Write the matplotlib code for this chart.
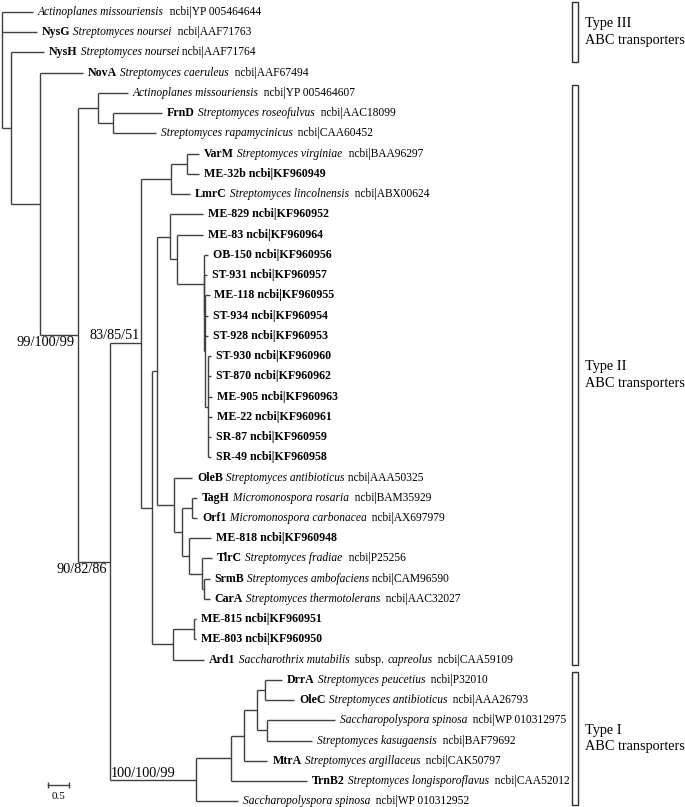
import re
import matplotlib.pyplot as plt
from matplotlib.patches import Rectangle

plt.rcParams['font.family'] = ['Liberation Serif', 'DejaVu Serif']

# leaf labels, top to bottom (**bold**, *italic*, rest plain)
leaf_labels = [
    '*Actinoplanes missouriensis*  ncbi|YP 005464644',
    '**NysG** *Streptomyces noursei*  ncbi|AAF71763',
    '**NysH** *Streptomyces noursei* ncbi|AAF71764',
    '**NovA** *Streptomyces caeruleus*  ncbi|AAF67494',
    '*Actinoplanes missouriensis*  ncbi|YP 005464607',
    '**FrnD** *Streptomyces roseofulvus*  ncbi|AAC18099',
    '*Streptomyces rapamycinicus*  ncbi|CAA60452',
    '**VarM** *Streptomyces virginiae*  ncbi|BAA96297',
    '**ME-32b ncbi|KF960949**',
    '**LmrC** *Streptomyces lincolnensis*  ncbi|ABX00624',
    '**ME-829 ncbi|KF960952**',
    '**ME-83 ncbi|KF960964**',
    '**OB-150 ncbi|KF960956**',
    '**ST-931 ncbi|KF960957**',
    '**ME-118 ncbi|KF960955**',
    '**ST-934 ncbi|KF960954**',
    '**ST-928 ncbi|KF960953**',
    '**ST-930 ncbi|KF960960**',
    '**ST-870 ncbi|KF960962**',
    '**ME-905 ncbi|KF960963**',
    '**ME-22 ncbi|KF960961**',
    '**SR-87 ncbi|KF960959**',
    '**SR-49 ncbi|KF960958**',
    '**OleB** *Streptomyces antibioticus* ncbi|AAA50325',
    '**TagH** *Micromonospora rosaria*  ncbi|BAM35929',
    '**Orf1** *Micromonospora carbonacea*  ncbi|AX697979',
    '**ME-818 ncbi|KF960948**',
    '**TlrC** *Streptomyces fradiae*  ncbi|P25256',
    '**SrmB** *Streptomyces ambofaciens* ncbi|CAM96590',
    '**CarA** *Streptomyces thermotolerans*  ncbi|AAC32027',
    '**ME-815 ncbi|KF960951**',
    '**ME-803 ncbi|KF960950**',
    '**Ard1** *Saccharothrix mutabilis*  subsp. *capreolus*  ncbi|CAA59109',
    '**DrrA** *Streptomyces peucetius*  ncbi|P32010',
    '**OleC** *Streptomyces antibioticus*  ncbi|AAA26793',
    '*Saccharopolyspora spinosa*  ncbi|WP 010312975',
    '*Streptomyces kasugaensis*  ncbi|BAF79692',
    '**MtrA** *Streptomyces argillaceus*  ncbi|CAK50797',
    '**TrnB2** *Streptomyces longisporoflavus*  ncbi|CAA52012',
    '*Saccharopolyspora spinosa*  ncbi|WP 010312952',
]
leaf_parent = ['root', 'root', 'A', 'B', 'D', 'D1', 'D1', 'G1', 'G1', 'G',
               'J1', 'J2', 'J3', 'K1', 'K2', 'K2', 'K2', 'K3', 'K3', 'K3',
               'K3', 'K3', 'K3', 'K', 'L', 'L', 'M', 'M2', 'N', 'N',
               'P1', 'P1', 'P', 'T4', 'T4', 'T5', 'T5', 'T2', 'T1', 'T']
leaf_blen = [0.74, 0.83, 0.79, 1.02, 0.71, 1.17, 1.02, 0.29, 0.29, 0.45,
             0.79, 0.62, 0.10, 0.07, 0.10, 0.07, 0.07, 0.07, 0.07, 0.10,
             0.10, 0.07, 0.07, 0.43, 0.12, 0.12, 0.52, 0.26, 0.12, 0.12,
             0.05, 0.05, 0.76, 0.40, 0.69, 1.60, 1.07, 0.55, 1.81, 0.98]

# internal nodes (parent listed before child)
node_names = ['A', 'B', 'C', 'D', 'D1', 'E', 'F', 'G', 'G1', 'H', 'I', 'J1',
              'J2', 'J3', 'K1', 'K2', 'K3', 'K', 'L2', 'L', 'M', 'M2', 'N',
              'P', 'P1', 'T', 'T1', 'T2', 'T3', 'T4', 'T5']
node_parent = ['root', 'A', 'B', 'C', 'D', 'C', 'E', 'F', 'G', 'F', 'H', 'I',
               'J1', 'J2', 'J3', 'K1', 'K2', 'I', 'K', 'L2', 'L2', 'M', 'M2',
               'H', 'P', 'E', 'T', 'T1', 'T2', 'T3', 'T3']
node_blen = [0.21, 0.69, 0.90, 0.48, 0.36, 0.76, 0.76, 0.71, 0.38, 0.24, 0.14,
             0.29, 0.17, 0.64, 0.02, 0.02, 0.07, 0.40, 0.19, 0.24, 0.17, 0.29,
             0.07, 0.50, 0.50, 2.07, 0.83, 0.31, 0.29, 0.21, 0.26]

support_nodes = ['C', 'F', 'E', 'T']
support_text = ['99/100/99', '83/85/51', '90/82/86', '100/100/99']

group_names = ['Type III\nABC transporters', 'Type II\nABC transporters',
               'Type I\nABC transporters']
group_first = [0, 4, 33]
group_last = [3, 32, 39]

# ---- layout of the tree
depth = {'root': 0.0}
for n, p, b in zip(node_names, node_parent, node_blen):
    depth[n] = depth[p] + b

children = {}
for i, p in enumerate(leaf_parent):
    children.setdefault(p, []).append(('leaf', i))
for n, p in zip(node_names, node_parent):
    children.setdefault(p, []).append(('node', n))

leaf_x = [depth[p] + b for p, b in zip(leaf_parent, leaf_blen)]
ypos = {}


def node_y(n):
    ys = []
    for kind, c in children[n]:
        ys.append(c if kind == 'leaf' else node_y(c))
    ypos[n] = (min(ys) + max(ys)) / 2
    return ypos[n]


node_y('root')

fig = plt.figure(figsize=(6.85, 8.07), dpi=100)
ax = fig.add_axes([0, 0, 1, 1])
ax.set_xlim(-0.048, 16.26)
ax.set_ylim(39.28, -0.593)
ax.axis('off')

lc = '#404040'
lw = 1.0
for p, kids in children.items():
    ys = []
    for kind, c in kids:
        if kind == 'leaf':
            cx, cy = leaf_x[c], c
        else:
            cx, cy = depth[c], ypos[c]
        ys.append(cy)
        ax.hlines(cy, depth[p], cx, color=lc, lw=lw)
    ax.vlines(depth[p], min(ys), max(ys), color=lc, lw=lw)

# leaf labels built from bold / italic / plain pieces
fs = 8.3
for i, lab in enumerate(leaf_labels):
    parts = re.findall(r'\*\*(.+?)\*\*|\*(.+?)\*|([^*]+)', lab)
    prev = None
    pending = ''
    for b, it, pl in parts:
        if pl and not pl.strip():
            pending += pl
            continue
        txt = pending + (b or it or pl)
        pending = ''
        kw = dict(fontsize=fs + (0.25 if b else 0), ha='left', color='black',
                  fontweight='bold' if b else 'normal',
                  fontstyle='italic' if it else 'normal')
        if prev is None:
            prev = ax.annotate(txt, xy=(leaf_x[i], i), xytext=(3.5, 0),
                               textcoords='offset points', va='center', **kw)
        else:
            prev = ax.annotate(txt, xy=(1, 0), xycoords=prev, va='bottom', **kw)

# bootstrap values
place = {'C': ('right', 'top', -2, -1, 'self'),
         'F': ('right', 'bottom', -1, 1, 'self'),
         'E': ('right', 'top', -2, -1, 'self'),
         'T': ('left', 'bottom', 1, 0, 'parent')}
for n, s in zip(support_nodes, support_text):
    ha, va, dx, dy, where = place[n]
    x = depth[n] if where == 'self' else depth[node_parent[node_names.index(n)]]
    ax.annotate(s, xy=(x, ypos[n]), xytext=(dx, dy), textcoords='offset points',
                ha=ha, va=va, fontsize=10.3)

# scale bar
sx, sy = 1.1, 38.2
ax.plot([sx, sx + 0.5], [sy, sy], color=lc, lw=lw)
ax.vlines([sx, sx + 0.5], sy - 0.15, sy + 0.15, color=lc, lw=lw)
ax.text(sx + 0.25, sy + 0.35, '0.5', ha='center', va='top', fontsize=8)

# group brackets
bx, bw = 13.57, 0.143
top_pad = [0.5, 0.4, 0.4]
bottom_pad = [-0.53, 0.26, 0.18]
for name, a, b, tp, bp in zip(group_names, group_first, group_last,
                              top_pad, bottom_pad):
    y0, y1 = a - tp, b + bp
    ax.add_patch(Rectangle((bx, y0), bw, y1 - y0, fill=False,
                           edgecolor='#303030', lw=1.0))
    ax.text(bx + 0.3, (y0 + y1) / 2, name, ha='left', va='center',
            fontsize=10.3, linespacing=1.35)

fig.savefig('out.png', dpi=100)
